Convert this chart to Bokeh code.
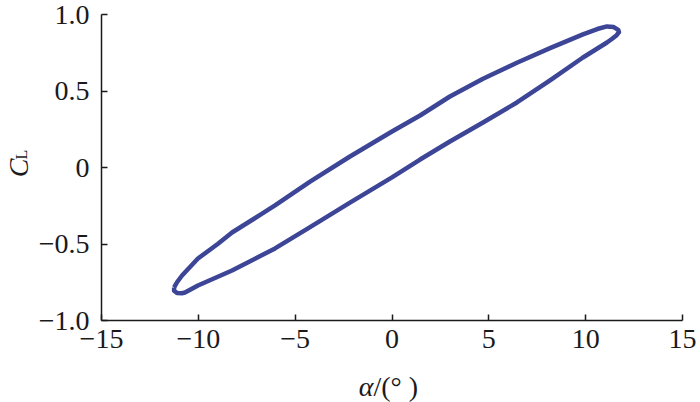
from bokeh.plotting import figure
from bokeh.models import Range1d, FixedTicker, ColumnDataSource
from bokeh.layouts import column, row
from bokeh.embed import file_html
from bokeh.resources import INLINE
from bokeh.core.properties import value
import math

# Hysteresis loop: upper branch (left tip -> right tip),
# then lower branch back to the left tip.
alpha = [-11.25, -11.10, -10.84, -10.02, -9.00, -8.26, -6.81, -6.04, -4.23, -2.17, 0.00,
         1.45, 2.99, 4.70, 6.45, 8.16, 9.86, 10.60, 11.10, 11.45, 11.68, 11.72,
         11.60, 11.35, 11.10, 9.86, 8.16, 6.45, 4.70, 2.99, 1.45, 0.00, -2.17,
         -4.23, -6.04, -8.26, -10.02, -10.69, -10.85, -11.10, -11.25, -11.25]
cl = [-0.784, -0.750, -0.706, -0.595, -0.500, -0.425, -0.310, -0.248, -0.092, 0.072, 0.235,
      0.340, 0.464, 0.580, 0.685, 0.780, 0.870, 0.905, 0.922, 0.918, 0.900, 0.885,
      0.865, 0.840, 0.817, 0.719, 0.569, 0.425, 0.294, 0.170, 0.052, -0.065, -0.230,
      -0.390, -0.529, -0.673, -0.771, -0.817, -0.822, -0.820, -0.805, -0.784]

x_ticks = [-15, -10, -5, 0, 5, 10, 15]
x_tick_labels = ["\u221215", "\u221210", "\u22125", "0", "5", "10", "15"]
y_ticks = [-1.0, -0.5, 0.0, 0.5, 1.0]
y_tick_labels = ["\u22121.0", "\u22120.5", "0", "0.5", "1.0"]

FONT = "Liberation Serif"
LINE_COLOR = "#3d4597"
TEXT_COLOR = "#1a1a1a"

LEFT_W = 34      # strip holding the y-axis title
MAIN_H = 366     # main plot height; the x-axis title strip sits below
TOTAL_W, TOTAL_H = 700, 402
FRAME_TOP, FRAME_BOTTOM = 14, 320

# ---------------- main plot ----------------
p = figure(width=TOTAL_W - LEFT_W, height=MAIN_H, output_backend="svg", toolbar_location=None,
           min_border_left=101 - LEFT_W, min_border_right=18, min_border_top=FRAME_TOP,
           min_border_bottom=MAIN_H - FRAME_BOTTOM,
           x_range=Range1d(-15, 15), y_range=Range1d(-1.0, 1.0))
p.outline_line_color = None
p.xgrid.visible = False
p.ygrid.visible = False

src = ColumnDataSource(dict(alpha=alpha, cl=cl))
p.line("alpha", "cl", source=src, line_color=LINE_COLOR, line_width=4.5, line_join="round")

for ax, ticks, labels in ((p.xaxis[0], x_ticks, x_tick_labels), (p.yaxis[0], y_ticks, y_tick_labels)):
    ax.ticker = FixedTicker(ticks=ticks)
    ax.major_label_overrides = {t: l for t, l in zip(ticks, labels)}
    ax.major_label_text_font = FONT
    ax.major_label_text_font_size = "28px"
    ax.major_label_text_color = TEXT_COLOR
    ax.axis_line_color = TEXT_COLOR
    ax.axis_line_width = 1.5
    ax.major_tick_line_color = TEXT_COLOR
    ax.major_tick_line_width = 1.5
    ax.major_tick_in = 6
    ax.major_tick_out = 0
    ax.minor_tick_line_color = None

p.xaxis.major_label_standoff = 9
p.yaxis.major_label_standoff = 12

# ---------------- y-axis title strip (its frame is aligned with the main frame) ----------------
left = figure(width=LEFT_W, height=MAIN_H, output_backend="svg", toolbar_location=None,
              min_border=0, x_axis_type=None, y_axis_type=None, title=None,
              x_range=Range1d(0, LEFT_W), y_range=Range1d(0, FRAME_BOTTOM - FRAME_TOP))
left.outline_line_color = None
left.xgrid.visible = False
left.ygrid.visible = False
left.text(x=[17.5], y=[FRAME_BOTTOM - 167.5], text=["C"], angle=math.pi / 2,
          text_font=value(FONT), text_font_style="italic", text_font_size="28px",
          text_align="center", text_baseline="middle", text_color=TEXT_COLOR)
left.text(x=[20.5], y=[FRAME_BOTTOM - 154], text=["L"], angle=math.pi / 2,
          text_font=value(FONT), text_font_size="16px",
          text_align="center", text_baseline="middle", text_color=TEXT_COLOR)

# ---------------- x-axis title strip ----------------
BOT_H = TOTAL_H - MAIN_H
bottom = figure(width=TOTAL_W, height=BOT_H, output_backend="svg", toolbar_location=None,
                min_border=0, x_axis_type=None, y_axis_type=None, title=None,
                x_range=Range1d(0, TOTAL_W), y_range=Range1d(0, BOT_H))
bottom.outline_line_color = None
bottom.xgrid.visible = False
bottom.ygrid.visible = False
bottom.text(x=[373], y=[TOTAL_H - 386], text=["\u03b1"],
            text_font=value(FONT), text_font_style="italic", text_font_size="28px",
            text_align="right", text_baseline="middle", text_color=TEXT_COLOR)
bottom.text(x=[373], y=[TOTAL_H - 386], text=["/(\u00b0 )"],
            text_font=value(FONT), text_font_size="28px",
            text_align="left", text_baseline="middle", text_color=TEXT_COLOR)

layout = column(row(left, p, spacing=0), bottom, spacing=0)
open("out.html", "w").write(file_html(layout, INLINE))
